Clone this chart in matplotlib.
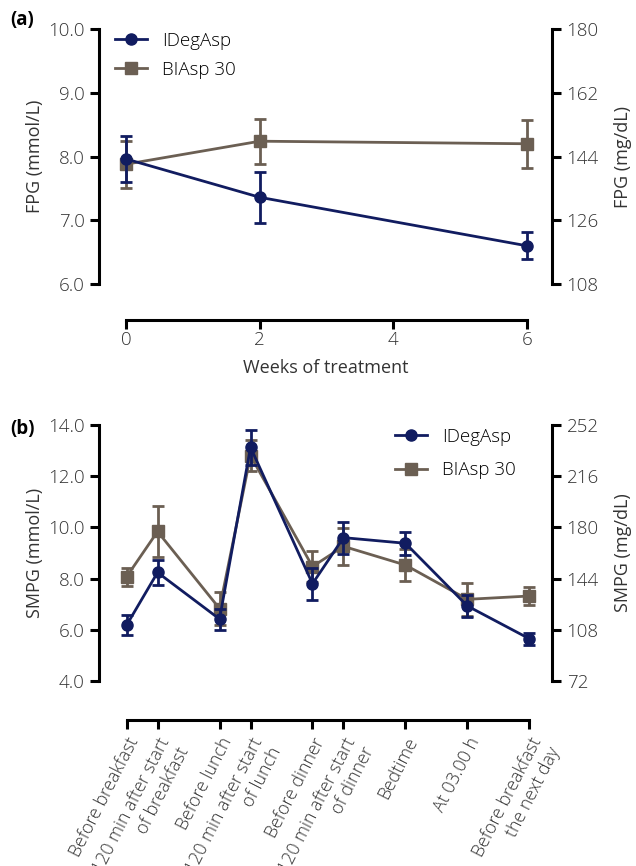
import numpy as np
import matplotlib
matplotlib.use("Agg")
import matplotlib.pyplot as plt
from matplotlib.lines import Line2D

plt.rcParams['font.family'] = ['Open Sans', 'DejaVu Sans']
plt.rcParams['font.weight'] = 'light'

# panel (a) data
weeks = [0, 2, 6]
ideg_fpg = [7.96, 7.36, 6.60]
ideg_fpg_err = [0.36, 0.40, 0.21]
biasp_fpg = [7.88, 8.24, 8.20]
biasp_fpg_err = [0.37, 0.35, 0.38]

# panel (b) data
time_pos = [0, 1, 3, 4, 6, 7, 9, 11, 13]
time_labels = ["Before breakfast", "120 min after start\nof breakfast", "Before lunch",
               "120 min after start\nof lunch", "Before dinner", "120 min after start\nof dinner",
               "Bedtime", "At 03.00 h", "Before breakfast\nthe next day"]
ideg_smpg = [6.18, 8.24, 6.42, 13.13, 7.80, 9.60, 9.38, 6.93, 5.65]
ideg_smpg_err = [0.38, 0.48, 0.41, 0.68, 0.62, 0.62, 0.45, 0.43, 0.24]
biasp_smpg = [8.07, 9.84, 6.83, 12.80, 8.47, 9.26, 8.53, 7.19, 7.32]
biasp_smpg_err = [0.34, 0.98, 0.63, 0.60, 0.62, 0.72, 0.61, 0.65, 0.37]

navy = "#111c60"
brown = "#6b5f53"
txt = "#333333"
fs = 13.5
mg = 18.0  # mmol/L -> mg/dL

fig = plt.figure(figsize=(6.36, 8.66), dpi=100)
W, H = 636, 866


def box(x0, y0, x1, y1):
    return [x0 / W, 1 - y1 / H, (x1 - x0) / W, (y1 - y0) / H]


def style(ax, twin, outward):
    for s in ['top', 'right']:
        ax.spines[s].set_visible(False)
    for s in ['top', 'left', 'bottom']:
        twin.spines[s].set_visible(False)
    ax.spines['left'].set_linewidth(2.2)
    ax.spines['bottom'].set_linewidth(2.2)
    twin.spines['right'].set_linewidth(2.2)
    ax.spines['bottom'].set_position(('outward', outward))
    ax.tick_params(axis='both', width=2.2, length=6.5, pad=4, labelsize=fs, labelcolor=txt)
    twin.tick_params(axis='y', width=2.2, length=6.5, pad=4, labelsize=fs, labelcolor=txt)


def draw(ax, x, y1, e1, y2, e2):
    ax.errorbar(x, y2, yerr=e2, color=brown, marker='s', ms=8, lw=2, capsize=4.3,
                capthick=2, elinewidth=2, zorder=2)
    ax.errorbar(x, y1, yerr=e1, color=navy, marker='o', ms=8, lw=2, capsize=4.3,
                capthick=2, elinewidth=2, zorder=3)
    h = [Line2D([], [], color=navy, marker='o', ms=8, lw=2),
         Line2D([], [], color=brown, marker='s', ms=8, lw=2)]
    return h, ["IDegAsp", "BIAsp 30"]


# ---- panel (a)
ax1 = fig.add_axes(box(99, 29, 552, 284))
tw1 = ax1.twinx()
h, l = draw(ax1, weeks, ideg_fpg, ideg_fpg_err, biasp_fpg, biasp_fpg_err)
ax1.set_xlim(-0.41, 6.38)
ax1.set_ylim(6, 10)
ax1.set_yticks([6, 7, 8, 9, 10])
ax1.set_yticklabels(["%.1f" % v for v in [6, 7, 8, 9, 10]])
ax1.set_xticks([0, 2, 4, 6])
ax1.spines['bottom'].set_bounds(0, 6)
tw1.set_ylim(6 * mg, 10 * mg)
tw1.set_yticks([108, 126, 144, 162, 180])
style(ax1, tw1, 26)
ax1.tick_params(axis='x', pad=1.5)
ax1.set_xlabel("Weeks of treatment", fontsize=13, color=txt, labelpad=7)
ax1.set_ylabel("FPG (mmol/L)", fontsize=13, color=txt, labelpad=3)
tw1.set_ylabel("FPG (mg/dL)", fontsize=13, color=txt, labelpad=11)
ax1.legend(h, l, loc='upper left', bbox_to_anchor=(-0.001, 1.056), frameon=False, fontsize=fs,
           handlelength=1.7, labelspacing=0.6, handletextpad=0.8)
fig.text(10 / W, 1 - 25 / H, "(a)", fontsize=fs, fontweight='bold', color='black')

# ---- panel (b)
ax2 = fig.add_axes(box(99, 425, 552, 681))
tw2 = ax2.twinx()
h, l = draw(ax2, time_pos, ideg_smpg, ideg_smpg_err, biasp_smpg, biasp_smpg_err)
ax2.set_xlim(-0.89, 13.73)
ax2.set_ylim(4, 14)
ax2.set_yticks([4, 6, 8, 10, 12, 14])
ax2.set_yticklabels(["%.1f" % v for v in [4, 6, 8, 10, 12, 14]])
ax2.set_xticks(time_pos)
ax2.set_xticklabels(time_labels)
ax2.spines['bottom'].set_bounds(0, 13)
tw2.set_ylim(4 * mg, 14 * mg)
tw2.set_yticks([72, 108, 144, 180, 216, 252])
style(ax2, tw2, 28)
for t in ax2.get_xticklabels():
    t.set_rotation(63)
    t.set_ha('right')
    t.set_va('top')
    t.set_rotation_mode('anchor')
    t.set_multialignment('right')
    t.set_fontsize(12.8)
ax2.set_ylabel("SMPG (mmol/L)", fontsize=13, color=txt, labelpad=3)
tw2.set_ylabel("SMPG (mg/dL)", fontsize=13, color=txt, labelpad=11)
ax2.legend(h, l, loc='upper left', bbox_to_anchor=(0.616, 1.056), frameon=False, fontsize=fs,
           handlelength=1.7, labelspacing=0.85, handletextpad=0.8)
fig.text(10 / W, 1 - 434 / H, "(b)", fontsize=fs, fontweight='bold', color='black')

fig.savefig("out.png", dpi=100)
